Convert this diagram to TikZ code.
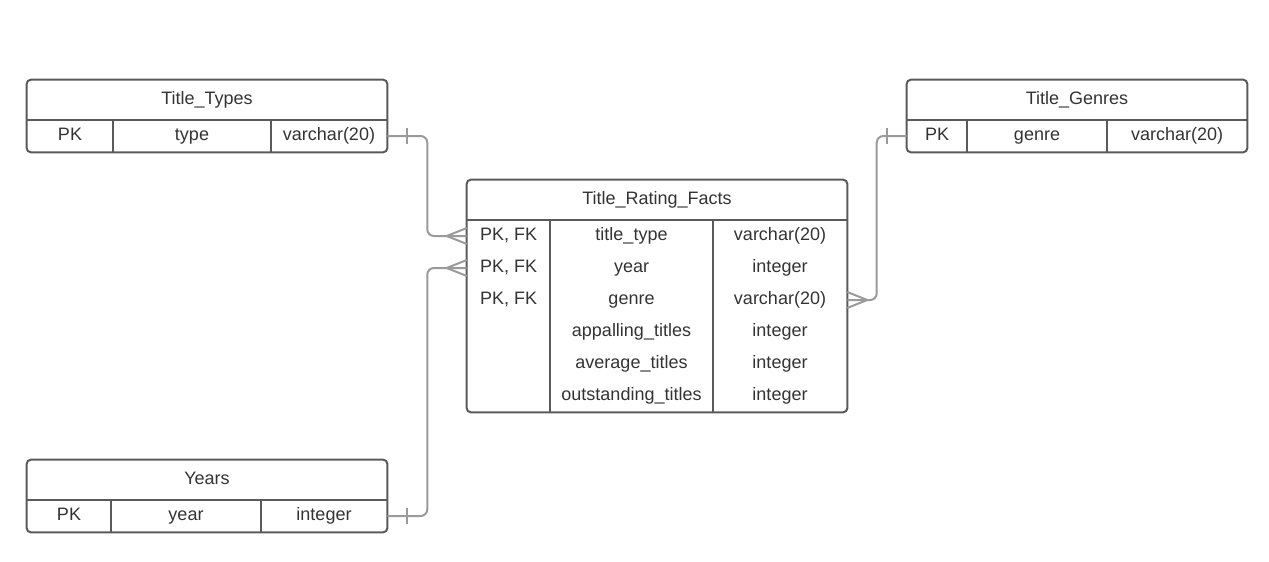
\documentclass[tikz,border=0pt]{standalone}
\usepackage{fontspec}
\setmainfont{Liberation Sans}
\definecolor{framegray}{HTML}{5A5A5A}
\definecolor{linkgray}{HTML}{9A9A9A}
\definecolor{textgray}{HTML}{333333}
\begin{document}
\begin{tikzpicture}[x=0.75pt,y=-0.75pt]

\tikzset{tbl/.style={draw=framegray,line width=1.5pt},}
\tikzset{cell/.style={minimum height=24pt,inner sep=0pt,text=textgray,font=\fontsize{13.5}{15}\selectfont,text height=9.7pt,text depth=3pt},}
\tikzset{head/.style={cell,minimum height=30pt},}
\tikzset{link/.style={draw=linkgray,line width=1.5pt},}

\useasboundingbox (0,0) rectangle (1269,561);

%TITLE TYPES
\draw (207,100) node [head,minimum width=270pt] (types) {Title\_Types};
\draw (70,136) node [cell,minimum width=64.5pt] (types1) {PK};
\draw (192,136) node [cell,minimum width=118.5pt] (types2) {type};
\draw (329,136) node [cell,minimum width=87pt] (types3) {varchar(20)};

\draw[tbl] (types.south west) -- (types.south east);
\draw[tbl] (types1.north east) -- (types1.south east);
\draw[tbl] (types2.north east) -- (types2.south east);
\draw[tbl,rounded corners=3pt] (types.north west) rectangle (types3.south east);

%TITLE GENRES
\draw (1077,100) node [head,minimum width=255pt] (genres) {Title\_Genres};
\draw (937,136) node [cell,minimum width=45pt] (genres1) {PK};
\draw (1037,136) node [cell,minimum width=105pt] (genres2) {genre};
\draw (1177,136) node [cell,minimum width=105pt] (genres3) {varchar(20)};

\draw[tbl] (genres.south west) -- (genres.south east);
\draw[tbl] (genres1.north east) -- (genres1.south east);
\draw[tbl] (genres2.north east) -- (genres2.south east);
\draw[tbl,rounded corners=3pt] (genres.north west) rectangle (genres3.south east);

%YEARS
\draw (207,480) node [head,minimum width=270pt] (years) {Years};
\draw (69,516) node [cell,minimum width=63pt] (years1) {PK};
\draw (186,516) node [cell,minimum width=112.5pt] (years2) {year};
\draw (324,516) node [cell,minimum width=94.5pt] (years3) {integer};

\draw[tbl] (years.south west) -- (years.south east);
\draw[tbl] (years1.north east) -- (years1.south east);
\draw[tbl] (years2.north east) -- (years2.south east);
\draw[tbl,rounded corners=3pt] (years.north west) rectangle (years3.south east);

%TITLE RATING FACTS
\draw (657,200) node [head,minimum width=285pt] (facts) {Title\_Rating\_Facts};
\foreach \i/\k/\n/\t in {1/PK{,} FK/title\_type/varchar(20),
                         2/PK{,} FK/year/integer,
                         3/PK{,} FK/genre/varchar(20),
                         4//appalling\_titles/integer,
                         5//average\_titles/integer,
                         6//outstanding\_titles/integer}{
  \draw (508.5,204+32*\i) node [cell,minimum width=62.25pt] (facts\i1) {\k};
  \draw (631.5,204+32*\i) node [cell,minimum width=122.25pt] (facts\i2) {\n};
  \draw (780,204+32*\i) node [cell,minimum width=100.5pt] (facts\i3) {\t};
}

\draw[tbl] (facts.south west) -- (facts.south east);
\draw[tbl] (facts11.north east) -- (facts61.south east);
\draw[tbl] (facts12.north east) -- (facts62.south east);
\draw[tbl,rounded corners=3pt] (facts.north west) rectangle (facts63.south east);

%LINKS
\draw[link,rounded corners=5pt] (types3.east) -- ++(40,0) |- (facts11.west);
\draw[link] (types3.east) ++(20,-8) -- ++(0,16);
\draw[link] (facts11.west) ++(0,-8) -- ++(-20,8) -- ++(20,8);

\draw[link,rounded corners=5pt] (years3.east) -- ++(40,0) |- (facts21.west);
\draw[link] (years3.east) ++(20,-8) -- ++(0,16);
\draw[link] (facts21.west) ++(0,-8) -- ++(-20,8) -- ++(20,8);

\draw[link,rounded corners=5pt] (genres1.west) -- ++(-30,0) |- (facts33.east);
\draw[link] (genres1.west) ++(-20,-8) -- ++(0,16);
\draw[link] (facts33.east) ++(0,-8) -- ++(20,8) -- ++(-20,8);

\end{tikzpicture}
\end{document}
